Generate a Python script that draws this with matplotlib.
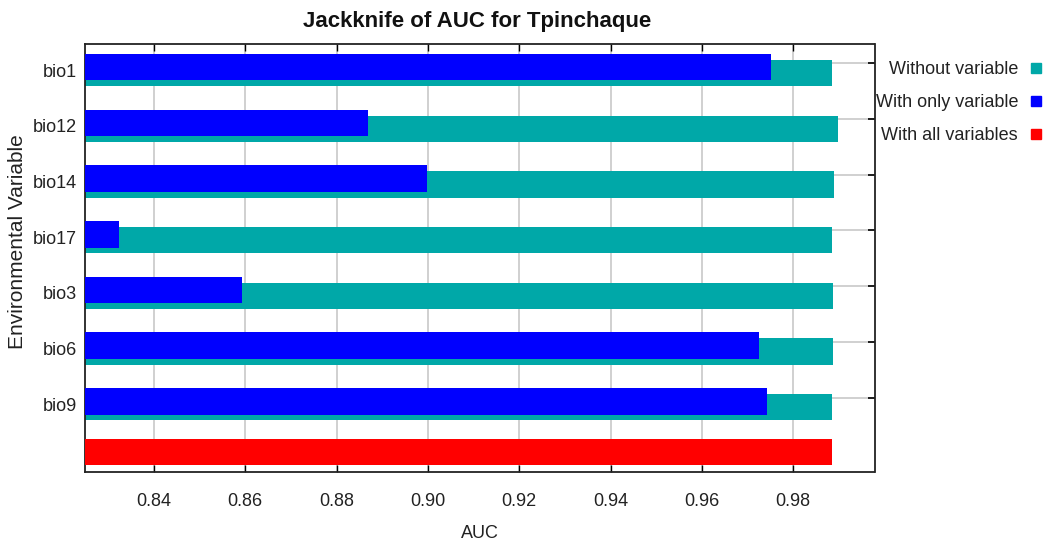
import matplotlib
matplotlib.use("Agg")
import matplotlib.pyplot as plt
import numpy as np
from matplotlib.lines import Line2D
from matplotlib.ticker import FixedLocator

plt.rcParams['font.family'] = ['Liberation Sans', 'DejaVu Sans']

variables = ['bio1', 'bio12', 'bio14', 'bio17', 'bio3', 'bio6', 'bio9']
without_variable = [0.9885, 0.9898, 0.9890, 0.9885, 0.9888, 0.9888, 0.9885]
with_only_variable = [0.9751, 0.8869, 0.8999, 0.8324, 0.8593, 0.9725, 0.9742]
with_all_variables = 0.9885
xticks = [0.84, 0.86, 0.88, 0.90, 0.92, 0.94, 0.96, 0.98]

TEAL = '#00A8A8'
BLUE = '#0000FF'
RED = '#FF0000'

W, H = 1047, 544
fig = plt.figure(figsize=(W / 100, H / 100), dpi=100)
ax = fig.add_axes([85 / W, 1 - 471.7 / H, (874.5 - 85) / W, (471.7 - 44) / H])

rows = np.arange(len(variables))
bar_h = 0.475
ax.barh(rows + 0.055, without_variable, height=bar_h, color=TEAL, zorder=2)
ax.barh(rows - 0.05, with_only_variable, height=bar_h, color=BLUE, zorder=3)
red_pos = len(variables) - 0.14
ax.barh([red_pos], [with_all_variables], height=0.467, color=RED, zorder=3)

ax.set_xlim(0.8249, 0.9978)
ax.set_ylim(7.212, -0.467)

ax.set_xticks(xticks)
ax.set_xticklabels([f'{v:.2f}' for v in xticks])
ax.tick_params(axis='x', which='major', direction='in', top=True, bottom=True,
               length=5, width=1, labelsize=13, pad=15, colors='black',
               labelcolor='#222222')

ax.set_yticks(rows)
ax.set_yticklabels(variables)
ax.tick_params(axis='y', which='major', length=0, labelsize=13, pad=6,
               labelcolor='#222222')
ax.yaxis.set_minor_locator(FixedLocator(rows - 0.12))
ax.tick_params(axis='y', which='minor', direction='in', left=False, right=True,
               length=5, width=1.2)

ax.set_axisbelow(True)
ax.grid(axis='x', which='major', color='#c8c8c8', linewidth=1.2)
ax.grid(axis='y', which='minor', color='#c8c8c8', linewidth=1.2)
for s in ax.spines.values():
    s.set_linewidth(1.3)
    s.set_color('#222222')

fig.text(476.7 / W, 1 - 22 / H, 'Jackknife of AUC for Tpinchaque', ha='center',
         va='center', fontsize=16, fontweight='bold', color='#111111')
fig.text(480 / W, 1 - 533 / H, 'AUC', ha='center', va='center', fontsize=13,
         color='#222222')
fig.text(18 / W, 1 - 242 / H, 'Environmental Variable', ha='center', va='center',
         rotation=90, fontsize=15, color='#222222')

handles = [Line2D([], [], linestyle='none', marker='s', markersize=6.5,
                  markerfacecolor=c, markeredgecolor=c) for c in (TEAL, BLUE, RED)]
labels = ['Without variable', 'With only variable', 'With all variables']
fig.legend(handles, labels, loc='upper right', bbox_to_anchor=(1.0, 1 - 56 / H),
           frameon=False, markerfirst=False, fontsize=13, handlelength=0.6,
           handletextpad=0.7, labelspacing=0.87, borderpad=0, borderaxespad=0.3,
           labelcolor='#222222')

fig.savefig('out.png', dpi=100)
